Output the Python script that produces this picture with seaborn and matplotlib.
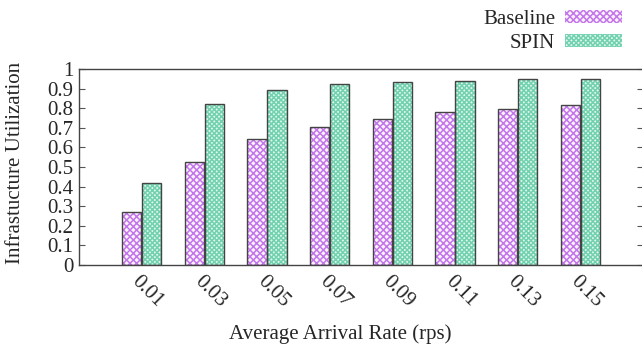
import seaborn as sns
import pandas as pd
import matplotlib
matplotlib.use("Agg")
import matplotlib.pyplot as plt
from matplotlib.patches import Patch, Rectangle
from matplotlib.transforms import ScaledTranslation

rates = ["0.01", "0.03", "0.05", "0.07", "0.09", "0.11", "0.13", "0.15"]
baseline = [0.27, 0.524, 0.641, 0.706, 0.747, 0.779, 0.798, 0.815]
spin = [0.418, 0.82, 0.891, 0.922, 0.932, 0.940, 0.947, 0.951]
series = ["Baseline", "SPIN"]

df = pd.DataFrame({
    "rate": rates * 2,
    "util": baseline + spin,
    "method": ["Baseline"] * len(rates) + ["SPIN"] * len(rates),
})

sns.set_style("ticks")
plt.rcParams["font.family"] = ["Liberation Serif", "DejaVu Serif"]
plt.rcParams["hatch.linewidth"] = 1.1
fs = 15

face = {"Baseline": "#fbf2fe", "SPIN": "#e0f6ee"}
hatchcol = {"Baseline": "#c375ea", "SPIN": "#72d1af"}
hatches = {"Baseline": "xxxxx", "SPIN": "xxxxxxx"}

fig = plt.figure(figsize=(6.42, 3.49), dpi=100)
ax = fig.add_axes([79 / 642, 1 - 265 / 349, 564 / 642, 196 / 349])

sns.barplot(data=df, x="rate", y="util", hue="method", order=rates,
            hue_order=series, palette=face, width=0.64, gap=0.04,
            legend=False, ax=ax)

for cont, name in zip(ax.containers, series):
    for p in cont:
        p.set_facecolor(face[name])
        p.set_hatch(hatches[name])
        p.set_edgecolor(hatchcol[name])
        p.set_linewidth(0)
        ax.add_patch(Rectangle(p.get_xy(), p.get_width(), p.get_height(),
                               fill=False, edgecolor="#444444", lw=1.0, zorder=3))

ax.set_xlim(-1, 8)
ax.set_ylim(0, 1)
ax.set_yticks([i / 10 for i in range(11)])
ax.set_yticklabels(["0"] + [f"0.{i}" for i in range(1, 10)] + ["1"], fontsize=fs)
ax.tick_params(axis="y", direction="in", length=4, right=True, pad=4,
               color="#555555", width=0.8)
ax.tick_params(axis="x", direction="in", length=3, pad=10, width=1)
shift = ScaledTranslation(-7 / 100, 0, fig.dpi_scale_trans)
for lab in ax.get_xticklabels():
    lab.set_rotation(-45)
    lab.set_ha("left")
    lab.set_va("center")
    lab.set_rotation_mode("anchor")
    lab.set_fontsize(fs)
    lab.set_transform(lab.get_transform() + shift)

for s in ["left", "bottom", "top", "right"]:
    ax.spines[s].set_color("#444444")
    ax.spines[s].set_linewidth(1.0)

ax.set_xlabel("Average Arrival Rate (rps)", fontsize=fs)
ax.set_ylabel("Infrastucture Utilization", fontsize=fs)
ax.xaxis.set_label_coords((340 - 79) / 564, -0.30)
ax.yaxis.set_label_coords(-0.096, 0.523)

handles = [Patch(facecolor=face[n], edgecolor=hatchcol[n], hatch=hatches[n], lw=0)
           for n in series]
fig.legend(handles, series, loc="upper right", bbox_to_anchor=(622 / 642, 1 - 10 / 349),
           frameon=False, markerfirst=False, fontsize=fs, handlelength=2.75,
           handleheight=0.6, handletextpad=0.45, labelspacing=0.25, borderpad=0,
           borderaxespad=0)

fig.savefig("out.png", dpi=100)
